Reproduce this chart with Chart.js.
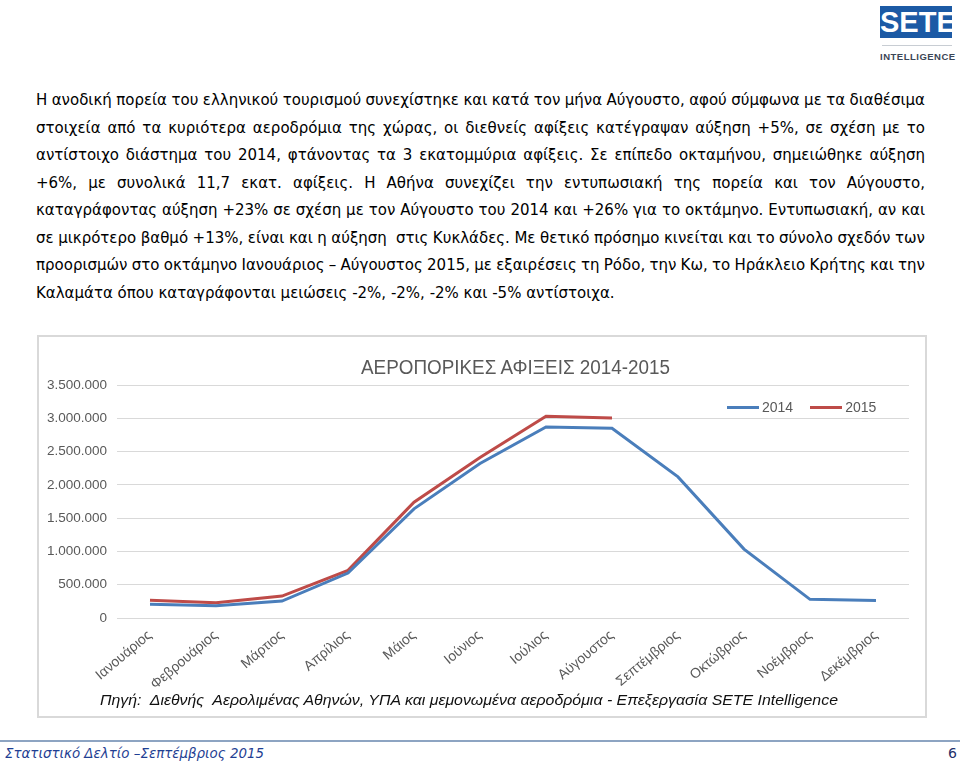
<!DOCTYPE html>
<html>
<head>
<meta charset="utf-8">
<script src="https://cdn.jsdelivr.net/npm/chart.js@4.4.0/dist/chart.umd.min.js"></script>
<style>
html,body{margin:0;padding:0;background:#fff;}
body{width:960px;height:765px;overflow:hidden;position:relative;font-family:"DejaVu Sans",sans-serif;}
.abs{position:absolute;white-space:nowrap;}
.para{font-family:"DejaVu Sans",sans-serif;font-size:15px;line-height:20px;color:#000;left:36px;white-space:pre;}
#logoBox{left:880px;top:6px;width:72px;height:32px;background:#1c5aa5;color:#fff;font-family:"Liberation Sans",sans-serif;font-weight:bold;font-size:29px;line-height:32px;text-align:center;}
#logoRule{left:882px;top:45px;width:70px;height:1px;background:#c8cdd3;}
#logoText{left:880px;top:51px;font-family:"Liberation Sans",sans-serif;font-weight:bold;font-size:9.5px;color:#3b4656;letter-spacing:0.5px;line-height:12px;}
#frame{left:37px;top:335px;width:886px;height:379px;border:2px solid #d9d9d9;}
#chartWrap{position:absolute;left:37px;top:335px;width:888px;height:381px;}
#chartTitle{font-family:"Liberation Sans",sans-serif;font-size:20px;color:#595959;line-height:22px;top:356px;left:361px;}
#legend{top:399px;left:727px;font-family:"Liberation Sans",sans-serif;font-size:14px;color:#595959;line-height:16px;}
#legend .item{display:inline-block;margin-right:17px;}
#legend .sw{display:inline-block;width:32px;height:3px;vertical-align:middle;margin-right:3px;position:relative;top:-1px;}
#source{left:100px;top:690px;font-family:"Liberation Sans",sans-serif;font-style:italic;font-size:15.5px;color:#111;line-height:20px;}
#footRule{left:0;top:740px;width:960px;height:2px;background:#8da4c2;}
#footText{left:5px;top:744px;font-family:"DejaVu Sans",sans-serif;font-style:italic;font-size:14px;color:#1f3f93;line-height:18px;}
#pageNum{left:948px;top:744px;font-family:"DejaVu Sans",sans-serif;font-size:14px;color:#1f2f6a;line-height:18px;}
</style>
</head>
<body>
<div id="logoBox" class="abs">SETE</div>
<div id="logoRule" class="abs"></div>
<div id="logoText" class="abs">INTELLIGENCE</div>

<div id="paraHolder"></div>

<div id="frame" class="abs"></div>
<div id="chartWrap"><canvas id="c" width="888" height="381"></canvas></div>
<div id="chartTitle" class="abs"><span>ΑΕΡΟΠΟΡΙΚΕΣ ΑΦΙΞΕΙΣ 2014-2015</span></div>
<div id="legend" class="abs"></div>
<div id="source" class="abs"><span>Πηγή:&nbsp; Διεθνής&nbsp; Αερολιμένας Αθηνών, ΥΠΑ και μεμονωμένα αεροδρόμια - Επεξεργασία SETE Intelligence</span></div>

<div id="footRule" class="abs"></div>
<div id="footText" class="abs"><span>Στατιστικό Δελτίο –Σεπτέμβριος 2015</span></div>
<div id="pageNum" class="abs">6</div>

<script>
// ---------- DATA ----------
const months = ['Ιανουάριος','Φεβρουάριος','Μάρτιος','Απρίλιος','Μάιος','Ιούνιος','Ιούλιος','Αύγουστος','Σεπτέμβριος','Οκτώβριος','Νοέμβριος','Δεκέμβριος'];
const seriesLabels = ['2014','2015'];
const arrivals2014 = [205000, 185000, 255000, 675000, 1640000, 2320000, 2870000, 2850000, 2120000, 1035000, 280000, 262000];
const arrivals2015 = [265000, 230000, 330000, 715000, 1740000, 2410000, 3030000, 3005000, null, null, null, null];
const yTickValues = [0, 500000, 1000000, 1500000, 2000000, 2500000, 3000000, 3500000];
const paragraphLines = [
  'Η ανοδική πορεία του ελληνικού τουρισμού συνεχίστηκε και κατά τον μήνα Αύγουστο, αφού σύμφωνα με τα διαθέσιμα',
  'στοιχεία από τα κυριότερα αεροδρόμια της χώρας, οι διεθνείς αφίξεις κατέγραψαν αύξηση +5%, σε σχέση με το',
  'αντίστοιχο διάστημα του 2014, φτάνοντας τα 3 εκατομμύρια αφίξεις. Σε επίπεδο οκταμήνου, σημειώθηκε αύξηση',
  '+6%, με συνολικά 11,7 εκατ. αφίξεις. Η Αθήνα συνεχίζει την εντυπωσιακή της πορεία και τον Αύγουστο,',
  'καταγράφοντας αύξηση +23% σε σχέση με τον Αύγουστο του 2014 και +26% για το οκτάμηνο. Εντυπωσιακή, αν και',
  'σε μικρότερο βαθμό +13%, είναι και η αύξηση  στις Κυκλάδες. Με θετικό πρόσημο κινείται και το σύνολο σχεδόν των',
  'προορισμών στο οκτάμηνο Ιανουάριος – Αύγουστος 2015, με εξαιρέσεις τη Ρόδο, την Κω, το Ηράκλειο Κρήτης και την',
  'Καλαμάτα όπου καταγράφονται μειώσεις -2%, -2%, -2% και -5% αντίστοιχα.'
];
const seriesColors = ['#4a7ebb', '#be4b48'];

// ---------- PARAGRAPH ----------
const holder = document.getElementById('paraHolder');
const paraEls = [];
paragraphLines.forEach((t, i) => {
  const d = document.createElement('div');
  d.className = 'abs para';
  d.style.top = (90 + i * 27.5) + 'px';
  const s = document.createElement('span');
  s.textContent = t;
  d.appendChild(s);
  holder.appendChild(d);
  paraEls.push(s);
});

function justify(span, target) {
  span.style.wordSpacing = '0px';
  const w = span.getBoundingClientRect().width;
  const n = (span.textContent.match(/ /g) || []).length;
  if (n > 0) span.style.wordSpacing = ((target - w) / n) + 'px';
}
function fitWidth(span, target) {
  span.style.display = 'inline-block';
  span.style.transform = 'none';
  const w = span.getBoundingClientRect().width;
  span.style.transformOrigin = 'left center';
  span.style.transform = 'scaleX(' + (target / w) + ')';
}
function layoutText() {
  paraEls.forEach((s, i) => { if (i < paraEls.length - 1) justify(s, 889); });
  fitWidth(document.querySelector('#chartTitle span'), 309);
  fitWidth(document.querySelector('#source span'), 738);
  fitWidth(document.querySelector('#footText span'), 259);
}
layoutText();
if (document.fonts && document.fonts.ready) document.fonts.ready.then(layoutText);

// ---------- CHART ----------
const fmt = v => String(v).replace(/\B(?=(\d{3})+(?!\d))/g, '.');
const yFont = {family: '"Liberation Sans", sans-serif', size: 13.5};
const xFont = {family: '"Liberation Sans", sans-serif', size: 14};

const chart = new Chart(document.getElementById('c'), {
  type: 'line',
  data: {
    labels: months,
    datasets: [
      {label: seriesLabels[0], data: arrivals2014, borderColor: seriesColors[0], backgroundColor: seriesColors[0], borderWidth: 3, pointRadius: 0, tension: 0, fill: false},
      {label: seriesLabels[1], data: arrivals2015, borderColor: seriesColors[1], backgroundColor: seriesColors[1], borderWidth: 3, pointRadius: 0, tension: 0, fill: false}
    ]
  },
  options: {
    responsive: false,
    animation: false,
    layout: {padding: {top: 50, right: 16, left: 0, bottom: 0}},
    plugins: {legend: {display: false}, title: {display: false}, tooltip: {enabled: false}},
    scales: {
      x: {
        offset: true,
        grid: {display: false},
        border: {display: false},
        ticks: {color: '#595959', font: xFont, maxRotation: 40, minRotation: 40, padding: 1, autoSkip: false},
        afterFit: s => { s.height = 98; }
      },
      y: {
        min: 0, max: 3500000,
        afterBuildTicks: s => { s.ticks = yTickValues.map(v => ({value: v})); },
        grid: {color: '#d9d9d9', lineWidth: 1, drawTicks: false},
        border: {display: false},
        ticks: {color: '#595959', font: yFont, padding: 10, callback: v => fmt(v)},
        afterFit: s => { s.width = 80; }
      }
    }
  }
});

// legend built from datasets
const lg = document.getElementById('legend');
chart.data.datasets.forEach(ds => {
  const it = document.createElement('span');
  it.className = 'item';
  const sw = document.createElement('span');
  sw.className = 'sw';
  sw.style.background = ds.borderColor;
  it.appendChild(sw);
  it.appendChild(document.createTextNode(ds.label));
  lg.appendChild(it);
});
</script>
</body>
</html>
